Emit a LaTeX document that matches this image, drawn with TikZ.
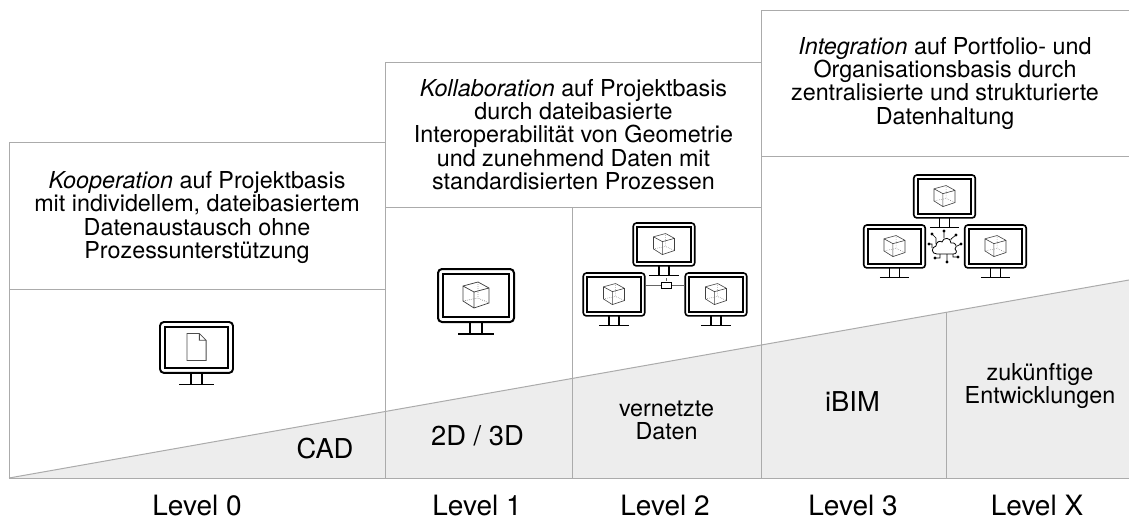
\documentclass[tikz,border=0pt]{standalone}
\usepackage{fontspec}
\setmainfont{TeX Gyre Heros}
\definecolor{wedgegrey}{HTML}{EDEDED}
\definecolor{rulegrey}{HTML}{ABABAB}
\tikzset{
  rulel/.style={draw=rulegrey,line width=0.75pt},
  boxtext/.style={align=center,font=\fontsize{17.5}{17.5}\selectfont,inner sep=0pt,anchor=center},
  smalltext/.style={align=center,font=\fontsize{17.5}{17.5}\selectfont,inner sep=0pt,anchor=center},
  bigtext/.style={font=\fontsize{20.5}{22}\selectfont,inner sep=0pt,anchor=center},
  leveltext/.style={font=\fontsize{21}{22}\selectfont,inner sep=0pt,anchor=center},
}
% #1 cx, #2 top y, #3 scale, #4 content (0 doc, 1 cube)
\newcommand{\monitoricon}[4]{%
  \begin{scope}[shift={(#1,#2)},x=0.75pt*#3,y=-0.75pt*#3]
    \draw[black,line width={1.5pt*#3},rounded corners={3pt*#3}] (-38,0) rectangle (38,53);
    \draw[black,line width={1.5pt*#3}] (-33,5) rectangle (33,48);
    \draw[black,line width={1.25pt*#3}] (-6,53) -- (-6,65) (6,53) -- (6,65);
    \draw[black,line width={1.25pt*#3}] (-18,65) -- (18,65);
    \ifnum#4=1
      \begin{scope}[shift={(0,26)}]
        \draw[black!75,line width={0.55pt*#3}] (-13,-9) -- (2,-13) -- (13,-7) -- (13,8) -- (-2,13) -- (-13,6) -- cycle
          (-13,-9) -- (-2,-3) -- (13,-7) (-2,-3) -- (-2,13);
        \draw[black!60,line width={0.5pt*#3},densely dotted] (2,-13) -- (2,3) (-13,6) -- (2,3) -- (13,8);
      \end{scope}
    \else
      \begin{scope}[shift={(0,26)}]
        \draw[black!70,line width=0.6pt] (-10,-14) -- (3,-14) -- (10,-7) -- (10,14) -- (-10,14) -- cycle
          (3,-14) -- (3,-7) -- (10,-7);
      \end{scope}
    \fi
  \end{scope}}
\begin{document}
\begin{tikzpicture}[x=0.75pt,y=-0.75pt]
\useasboundingbox (0,0) rectangle (1129,519);
% wedge
\fill[wedgegrey] (9,478) -- (1129,280) -- (1129,478) -- cycle;
\draw[rulel] (9,478) -- (1129,280);
% frame lines
\draw[rulel] (9,478) -- (9,142) -- (385,142);
\draw[rulel] (9,289) -- (385,289);
\draw[rulel] (385,478) -- (385,62) -- (761,62);
\draw[rulel] (385,207) -- (761,207);
\draw[rulel] (572,207) -- (572,478);
\draw[rulel] (761,478) -- (761,10) -- (1129,10);
\draw[rulel] (761,156) -- (1129,156);
\draw[rulel] (946,312) -- (946,478);
\draw[rulel] (9,478) -- (1129,478);
% header text
\node[boxtext] (t0) at (197,217.5) {\textit{Kooperation} auf Projektbasis\\mit individellem, dateibasiertem\\Datenaustausch ohne\\Prozessunterstützung};
\node[boxtext] (t1) at (573.5,134.5) {\textit{Kollaboration} auf Projektbasis\\durch dateibasierte\\Interoperabilität von Geometrie\\und zunehmend Daten mit\\standardisierten Prozessen};
\node[boxtext] (t3) at (945,83) {\textit{Integration} auf Portfolio- und\\Organisationsbasis durch\\zentralisierte und strukturierte\\Datenhaltung};
% wedge labels
\node[bigtext] (cad) at (325,449) {CAD};
\node[bigtext] (dd) at (477.5,436) {2D / 3D};
\node[smalltext] (vd) at (666.5,420.5) {vernetzte\\Daten};
\node[bigtext] (ibim) at (852.5,402) {iBIM};
\node[smalltext] (zk) at (1040,386) {zukünftige\\Entwicklungen};
% levels
\node[leveltext] (l0) at (197,505) {Level 0};
\node[leveltext] (l1) at (477,505) {Level 1};
\node[leveltext] (l2) at (665,505) {Level 2};
\node[leveltext] (l3) at (853,505) {Level 3};
\node[leveltext] (lx) at (1037,505) {Level X};
% monitors
\monitoricon{196.5}{322}{0.96}{0}
\monitoricon{476}{269}{1}{1}
\monitoricon{664}{223}{0.81}{1}
\monitoricon{614}{273}{0.81}{1}
\monitoricon{716}{273}{0.81}{1}
\monitoricon{944.5}{175}{0.81}{1}
\monitoricon{894.5}{225}{0.81}{1}
\monitoricon{995.5}{225}{0.81}{1}
% level 2 connector
\draw[black!60,line width=0.7pt] (646,285) -- (661,285) (671,285) -- (685,285) (666,281) -- (666,278);
\draw[black,line width=0.6pt,fill=white] (661,282) rectangle (671,288);
% cloud
\begin{scope}[shift={(945,246)}]
  \draw[black,line width=0.6pt,fill=white]
    (-8,8) .. controls (-14,8) and (-14,1) .. (-9,0)
    .. controls (-9,-4) and (-5,-6) .. (-3,-4)
    .. controls (-2,-9) and (6,-9) .. (6,-3)
    .. controls (10,-4) and (13,0) .. (10,3)
    .. controls (13,6) and (11,8) .. (8,8) -- cycle;
  \draw[black,line width=0.5pt]
    (-1,-8) -- (-1,-15)
    (6,-6) -- (6,-7) -- (11,-11)
    (12,0) -- (16,-2)
    (8,8) -- (8,11) -- (13,11)
    (2,8) -- (2,16)
    (-5,8) -- (-5,12) -- (-10,12)
    (-13,2) -- (-13,-2) -- (-16,-2)
    (-9,-2) -- (-9,-8) -- (-13,-12);
  \fill[black] (-1,-15) circle (1.6) (11,-11) circle (1.6) (16,-2) circle (1.6) (13,11) circle (1.6) (2,16) circle (1.6) (-10,12) circle (1.6) (-16,-2) circle (1.6) (-13,-12) circle (1.6);
\end{scope}
\end{tikzpicture}
\end{document}
